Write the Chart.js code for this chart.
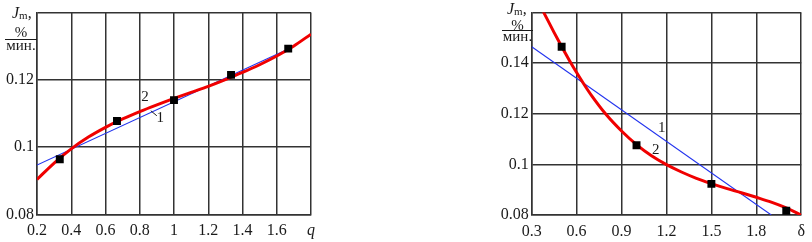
<!DOCTYPE html>
<html>
<head>
<meta charset="utf-8">
<script src="https://cdn.jsdelivr.net/npm/chart.js@4.4.1/dist/chart.umd.min.js"></script>
<style>
  body { margin: 0; background: #fff; width: 812px; height: 242px; position: relative; overflow: hidden;
         font-family: "Liberation Serif", "DejaVu Serif", serif; color: #1a1a1a; }
  .box { position: absolute; top: 0; width: 322px; height: 242px; }
  #leftBox { left: 0; }
  #rightBox { left: 490px; }
  .lab { position: absolute; line-height: 1; white-space: nowrap; }
  .jm { font-size: 16px; }
  .jm sub { font-size: 11px; vertical-align: -1px; }
  .pct, .den { font-size: 15px; text-align: center; }
  .bar { position: absolute; height: 0; border-top: 1.2px solid #1a1a1a; }
</style>
</head>
<body>
<div class="box" id="leftBox"><canvas id="leftChart"></canvas></div>
<div class="box" id="rightBox"><canvas id="rightChart"></canvas></div>

<!-- axis titles: J_m, %/мин. -->
<div class="lab jm" style="left:12px;top:5px"><i>J</i><sub>m</sub>,</div>
<div class="lab pct" style="left:5px;top:25px;width:32px">%</div>
<div class="bar" style="left:5px;top:39px;width:32px"></div>
<div class="lab den" style="left:5px;top:38px;width:32px">мин.</div>

<div class="lab jm" style="left:507px;top:1px"><i>J</i><sub>m</sub>,</div>
<div class="lab pct" style="left:502px;top:18px;width:31px">%</div>
<div class="bar" style="left:502px;top:30px;width:31px"></div>
<div class="lab den" style="left:502px;top:29px;width:31px">мин.</div>

<script>
// ===============================
// DATA: left panel (J_m vs q)
// ===============================
const qPoints = [0.333, 0.667, 1.0, 1.333, 1.667];
const jqPoints = [0.0964, 0.1078, 0.1140, 0.1215, 0.1293];

const qLine1 = [0.2, 1.68];
const jqLine1 = [0.0947, 0.1295];

const qCurve2 = [0.2, 0.3, 0.4, 0.5, 0.6, 0.7, 0.8, 0.9, 1.0, 1.1, 1.2, 1.3, 1.4, 1.5, 1.6, 1.7, 1.8];
const jqCurve2 = [0.0904, 0.0953, 0.0995, 0.1030, 0.1059, 0.1084, 0.1106, 0.1126, 0.1145,
                  0.1163, 0.1181, 0.1201, 0.1222, 0.1245, 0.1271, 0.1301, 0.1336];

const qTickLabels = ["0.2", "0.4", "0.6", "0.8", "1", "1.2", "1.4", "1.6", "q"];
const jqTickLabels = ["0.08", "0.1", "0.12", ""];

// ===============================
// DATA: right panel (J_m vs δ)
// ===============================
const dPoints = [0.5, 1.0, 1.5, 2.0];
const jdPoints = [0.1465, 0.1076, 0.0923, 0.0817];

const dLine1 = [0.3, 1.9];
const jdLine1 = [0.1465, 0.0800];

const dCurve2 = [0.37, 0.4, 0.45, 0.5, 0.55, 0.6, 0.65, 0.7, 0.8, 0.9, 1.0, 1.1, 1.2,
                 1.3, 1.4, 1.5, 1.6, 1.7, 1.8, 1.9, 2.0, 2.1];
const jdCurve2 = [0.1612, 0.1578, 0.1521, 0.1466, 0.1413, 0.1363, 0.1316, 0.1272, 0.1195,
                  0.1132, 0.1078, 0.1034, 0.0999, 0.0970, 0.0945, 0.0924, 0.0905, 0.0888,
                  0.0870, 0.0851, 0.0828, 0.0800];

const dTickLabels = ["0.3", "0.6", "0.9", "1.2", "1.5", "1.8", "δ"];
const jdTickLabels = ["0.08", "0.1", "0.12", "0.14", ""];

// ===============================
// HELPERS
// ===============================
const FONT = "'Liberation Serif', 'DejaVu Serif', serif";
const GRID = "#333";
const zip = (xs, ys) => xs.map((x, i) => ({ x, y: ys[i] }));

Chart.defaults.font.family = FONT;
Chart.defaults.color = "#1a1a1a";

// curve numbers "1", "2" written next to the lines
const curveNotes = {
  id: "curveNotes",
  afterDatasetsDraw(chart, args, opts) {
    const { ctx, scales: { x, y } } = chart;
    ctx.save();
    ctx.fillStyle = "#1a1a1a";
    ctx.strokeStyle = "#1a1a1a";
    ctx.lineWidth = 1;
    ctx.font = "15px " + FONT;
    ctx.textAlign = "center";
    ctx.textBaseline = "middle";
    (opts.notes || []).forEach(n => {
      const px = x.getPixelForValue(n.x);
      const py = y.getPixelForValue(n.y);
      ctx.fillText(n.text, px, py);
      if (n.lead) {
        ctx.beginPath();
        ctx.moveTo(px + n.lead[0], py + n.lead[1]);
        ctx.lineTo(px + n.lead[2], py + n.lead[3]);
        ctx.stroke();
      }
    });
    ctx.restore();
  }
};

function buildChart(id, cfg) {
  return new Chart(document.getElementById(id), {
    type: "scatter",
    data: {
      datasets: [
        {
          data: zip(cfg.points[0], cfg.points[1]),
          pointStyle: "rect", pointRadius: 5.6, pointHoverRadius: 5.6,
          backgroundColor: "#000", borderColor: "#000", borderWidth: 0,
          showLine: false, order: 0
        },
        {
          data: zip(cfg.curve[0], cfg.curve[1]),
          showLine: true, borderColor: "#f00000", borderWidth: 3,
          pointRadius: 0, tension: 0.4, cubicInterpolationMode: "monotone", order: 1
        },
        {
          data: zip(cfg.line[0], cfg.line[1]),
          showLine: true, borderColor: "#2233ee", borderWidth: 1.1,
          pointRadius: 0, order: 2
        }
      ]
    },
    options: {
      responsive: true,
      maintainAspectRatio: false,
      animation: false,
      layout: { padding: cfg.padding },
      plugins: {
        legend: { display: false },
        tooltip: { enabled: false },
        curveNotes: { notes: cfg.notes }
      },
      scales: {
        x: {
          type: "linear", min: cfg.xRange[0], max: cfg.xRange[1],
          afterFit: s => { s.height = cfg.xHeight; },
          ticks: {
            stepSize: cfg.xStep, autoSkip: false, maxRotation: 0, padding: 7,
            color: "#1a1a1a",
            font: c => ({ family: FONT, size: 16, style: c.index === cfg.xLabels.length - 1 && cfg.italicLast ? "italic" : "normal" }),
            callback: (v, i) => cfg.xLabels[i]
          },
          grid: { color: GRID, lineWidth: 1.5, drawTicks: false },
          border: { color: GRID, width: 1.5 }
        },
        y: {
          type: "linear", min: cfg.yRange[0], max: cfg.yRange[1],
          afterFit: s => { s.width = cfg.yWidth; },
          ticks: {
            stepSize: 0.02, autoSkip: false, padding: 3,
            color: "#1a1a1a", font: { family: FONT, size: 16 },
            callback: (v, i) => cfg.yLabels[i]
          },
          grid: { color: GRID, lineWidth: 1.5, drawTicks: false },
          border: { color: GRID, width: 1.5 }
        }
      }
    },
    plugins: [curveNotes]
  });
}

// ===============================
// INIT
// ===============================
buildChart("leftChart", {
  points: [qPoints, jqPoints],
  curve: [qCurve2, jqCurve2],
  line: [qLine1, jqLine1],
  xRange: [0.2, 1.8], xStep: 0.2, xLabels: qTickLabels, italicLast: true,
  yRange: [0.08, 0.14], yLabels: jqTickLabels,
  padding: { top: 8, right: 11, left: 0, bottom: 0 },
  yWidth: 37, xHeight: 27.5,
  notes: [
    { text: "2", x: 0.83, y: 0.1148 },
    { text: "1", x: 0.92, y: 0.1086, lead: [-9.5, -7.5, -3.5, -2.5] }
  ]
});

buildChart("rightChart", {
  points: [dPoints, jdPoints],
  curve: [dCurve2, jdCurve2],
  line: [dLine1, jdLine1],
  xRange: [0.3, 2.1], xStep: 0.3, xLabels: dTickLabels, italicLast: false,
  yRange: [0.08, 0.16], yLabels: jdTickLabels,
  padding: { top: 7, right: 8, left: 0, bottom: 0 },
  yWidth: 41.7, xHeight: 27,
  notes: [
    { text: "1", x: 1.168, y: 0.1142 },
    { text: "2", x: 1.128, y: 0.1058 }
  ]
});
</script>
</body>
</html>
